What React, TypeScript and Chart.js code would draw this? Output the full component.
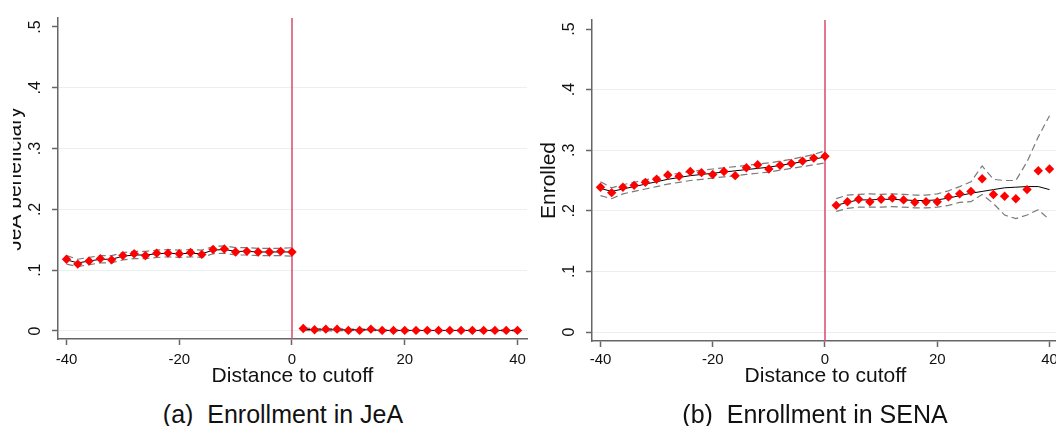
import React, { useEffect, useRef } from "react";
import { Chart, registerables } from "chart.js";

Chart.register(...registerables);

// ---------- data ----------
const xLeft = [-40, -38, -36, -34, -32, -30, -28, -26, -24, -22, -20, -18, -16, -14, -12, -10, -8, -6, -4, -2, 0];
const xRight = [2, 4, 6, 8, 10, 12, 14, 16, 18, 20, 22, 24, 26, 28, 30, 32, 34, 36, 38, 40];
const xTicks = [-40, -20, 0, 20, 40];
const yTicks = [0, 0.1, 0.2, 0.3, 0.4, 0.5];
const yTickLabels = ["0", ".1", ".2", ".3", ".4", ".5"];

// Panel (a): Enrollment in JeA
const jeaPointsLeft = [0.118, 0.110, 0.115, 0.119, 0.117, 0.124, 0.127, 0.124, 0.128, 0.128, 0.127, 0.129, 0.126, 0.134, 0.135, 0.130, 0.131, 0.130, 0.130, 0.131, 0.130];
const jeaFitLeft = [0.117, 0.112, 0.115, 0.118, 0.118, 0.123, 0.125, 0.125, 0.127, 0.128, 0.127, 0.128, 0.127, 0.133, 0.134, 0.131, 0.131, 0.130, 0.130, 0.130, 0.130];
const jeaUpperLeft = [0.124, 0.118, 0.121, 0.124, 0.124, 0.129, 0.131, 0.131, 0.133, 0.134, 0.133, 0.134, 0.133, 0.139, 0.140, 0.137, 0.137, 0.136, 0.136, 0.136, 0.137];
const jeaLowerLeft = [0.110, 0.106, 0.109, 0.112, 0.112, 0.117, 0.119, 0.119, 0.121, 0.122, 0.121, 0.122, 0.121, 0.127, 0.128, 0.125, 0.125, 0.124, 0.124, 0.124, 0.123];
const jeaPointsRight = [0.004, 0.002, 0.003, 0.003, 0.001, 0.001, 0.003, 0.001, 0.001, 0.001, 0.001, 0.001, 0.001, 0.001, 0.001, 0.001, 0.001, 0.001, 0.001, 0.001];
const jeaFitRight = [0.003, 0.002, 0.002, 0.002, 0.002, 0.002, 0.002, 0.001, 0.001, 0.001, 0.001, 0.001, 0.001, 0.001, 0.001, 0.001, 0.001, 0.001, 0.001, 0.001];
const jeaUpperRight = [0.005, 0.004, 0.004, 0.004, 0.003, 0.003, 0.003, 0.002, 0.002, 0.002, 0.002, 0.002, 0.002, 0.002, 0.002, 0.002, 0.002, 0.002, 0.002, 0.002];
const jeaLowerRight = [0.001, 0.000, 0.000, 0.000, 0.001, 0.001, 0.001, 0.000, 0.000, 0.000, 0.000, 0.000, 0.000, 0.000, 0.000, 0.000, 0.000, 0.000, 0.000, 0.000];

// Panel (b): Enrollment in SENA
const senaPointsLeft = [0.239, 0.230, 0.239, 0.242, 0.247, 0.252, 0.259, 0.257, 0.265, 0.263, 0.260, 0.265, 0.258, 0.271, 0.276, 0.269, 0.275, 0.278, 0.282, 0.287, 0.290];
const senaFitLeft = [0.237, 0.232, 0.236, 0.240, 0.244, 0.248, 0.252, 0.255, 0.258, 0.260, 0.262, 0.264, 0.266, 0.268, 0.270, 0.272, 0.275, 0.278, 0.281, 0.285, 0.289];
const senaUpperLeft = [0.248, 0.238, 0.243, 0.247, 0.251, 0.255, 0.259, 0.262, 0.265, 0.267, 0.269, 0.271, 0.273, 0.275, 0.277, 0.279, 0.282, 0.285, 0.289, 0.293, 0.299];
const senaLowerLeft = [0.225, 0.220, 0.228, 0.232, 0.236, 0.240, 0.244, 0.247, 0.250, 0.252, 0.254, 0.256, 0.258, 0.260, 0.262, 0.264, 0.267, 0.270, 0.273, 0.276, 0.279];
const senaPointsRight = [0.209, 0.215, 0.219, 0.215, 0.219, 0.221, 0.218, 0.214, 0.215, 0.215, 0.223, 0.228, 0.232, 0.253, 0.227, 0.224, 0.220, 0.235, 0.266, 0.269];
const senaFitRight = [0.209, 0.214, 0.218, 0.218, 0.219, 0.219, 0.218, 0.217, 0.217, 0.218, 0.221, 0.225, 0.229, 0.232, 0.235, 0.238, 0.239, 0.240, 0.240, 0.235];
const senaUpperRight = [0.220, 0.226, 0.227, 0.228, 0.227, 0.228, 0.227, 0.226, 0.226, 0.228, 0.233, 0.240, 0.248, 0.274, 0.252, 0.250, 0.250, 0.281, 0.322, 0.357];
const senaLowerRight = [0.199, 0.204, 0.206, 0.206, 0.206, 0.207, 0.206, 0.205, 0.205, 0.206, 0.209, 0.214, 0.215, 0.227, 0.212, 0.193, 0.187, 0.193, 0.202, 0.185];

// ---------- styling ----------
const FONT = "'Liberation Sans', Arial, Helvetica, sans-serif";
const AXIS = "#666666";
const TEXT = "#111111";
const GRID = "#e8f0f0";
const CUTLINE = "#d94b6a";
const CI = "#7a7a7a";

type PanelProps = {
  left: number;
  width: number;
  height: number;
  yWidth: number;
  top: number;
  xHeight: number;
  padRight: number;
  tickPad: number;
  xMin: number;
  xMax: number;
  yMin: number;
  yMax: number;
  yTitle: string;
  pointsL: number[];
  pointsR: number[];
  fitL: number[];
  fitR: number[];
  upL: number[];
  upR: number[];
  loL: number[];
  loR: number[];
};

const pts = (xs: number[], ys: number[]) => xs.map((x, i) => ({ x, y: ys[i] }));

function Panel(p: PanelProps) {
  const ref = useRef<HTMLCanvasElement | null>(null);

  useEffect(() => {
    if (!ref.current) return;
    const scatterDs = (xs: number[], ys: number[]) => ({
      data: pts(xs, ys),
      pointStyle: "rectRot",
      pointRadius: 4.7,
      backgroundColor: "#ff0000",
      borderColor: "#ff0000",
      borderWidth: 0,
      showLine: false,
    });
    const lineDs = (xs: number[], ys: number[], color: string, width: number, dash: number[]) => ({
      data: pts(xs, ys),
      showLine: true,
      pointRadius: 0,
      borderColor: color,
      borderWidth: width,
      borderDash: dash,
      fill: false,
      tension: 0,
    });

    const plugin = {
      id: "stataDecor",
      beforeDatasetsDraw(chart: any) {
        const { ctx, chartArea } = chart;
        const x0 = chart.scales.x.getPixelForValue(0);
        ctx.save();
        ctx.strokeStyle = CUTLINE;
        ctx.lineWidth = 1.5;
        ctx.beginPath();
        ctx.moveTo(x0, chartArea.top);
        ctx.lineTo(x0, chartArea.bottom);
        ctx.stroke();
        ctx.restore();
      },
      afterDraw(chart: any) {
        const { ctx, chartArea } = chart;
        const ys = chart.scales.y;
        ctx.save();
        ctx.fillStyle = TEXT;
        ctx.textAlign = "center";
        ctx.textBaseline = "middle";
        ctx.font = `16px ${FONT}`;
        yTicks.forEach((v, i) => {
          const y = ys.getPixelForValue(v);
          ctx.save();
          ctx.translate(chartArea.left - 22, y);
          ctx.rotate(-Math.PI / 2);
          ctx.fillText(yTickLabels[i], 0, 0);
          ctx.restore();
        });
        const yc = (ys.getPixelForValue(0) + ys.getPixelForValue(0.5)) / 2;
        ctx.font = `21px ${FONT}`;
        ctx.translate(chartArea.left - 43, yc);
        ctx.rotate(-Math.PI / 2);
        ctx.fillText(p.yTitle, 0, 0);
        ctx.restore();
      },
    };

    const chart = new Chart(ref.current, {
      type: "scatter",
      data: {
        datasets: [
          scatterDs(xLeft, p.pointsL),
          scatterDs(xRight, p.pointsR),
          lineDs(xLeft, p.fitL, "#000000", 1, []),
          lineDs(xRight, p.fitR, "#000000", 1, []),
          lineDs(xLeft, p.upL, CI, 1.2, [7, 4]),
          lineDs(xLeft, p.loL, CI, 1.2, [7, 4]),
          lineDs(xRight, p.upR, CI, 1.2, [7, 4]),
          lineDs(xRight, p.loR, CI, 1.2, [7, 4]),
        ] as any,
      },
      options: {
        animation: false,
        responsive: false,
        maintainAspectRatio: false,
        devicePixelRatio: 1,
        layout: { padding: { left: 0, top: p.top, right: p.padRight, bottom: 0 } },
        plugins: { legend: { display: false }, tooltip: { enabled: false }, title: { display: false } },
        scales: {
          x: {
            type: "linear",
            min: p.xMin,
            max: p.xMax,
            afterBuildTicks: (s: any) => {
              s.ticks = xTicks.map((v) => ({ value: v }));
            },
            afterFit: (s: any) => {
              s.height = p.xHeight;
            },
            grid: {
              drawOnChartArea: false,
              drawTicks: true,
              tickLength: 6,
              tickWidth: 1.5,
              tickColor: AXIS,
              color: AXIS,
            },
            border: { display: true, color: AXIS, width: 1.5 },
            ticks: {
              font: { family: FONT, size: 15 },
              color: TEXT,
              padding: p.tickPad - 1,
              maxRotation: 0,
              minRotation: 0,
              autoSkip: false,
              callback: (v: any) => String(v),
            },
            title: {
              display: true,
              text: "Distance to cutoff",
              font: { family: FONT, size: 21 },
              color: TEXT,
              padding: { top: 0, bottom: 6 },
            },
          },
          y: {
            type: "linear",
            min: p.yMin,
            max: p.yMax,
            afterBuildTicks: (s: any) => {
              s.ticks = yTicks.map((v) => ({ value: v }));
            },
            afterFit: (s: any) => {
              s.width = p.yWidth;
            },
            grid: {
              drawOnChartArea: true,
              drawTicks: true,
              tickLength: 6,
              tickWidth: 1.5,
              tickColor: AXIS,
              lineWidth: 1,
              color: (c: any) => (c.tick && Math.abs(c.tick.value - 0.5) < 1e-9 ? "rgba(0,0,0,0)" : GRID),
            },
            border: { display: true, color: AXIS, width: 1.5 },
            ticks: { display: false },
          },
        },
      } as any,
      plugins: [plugin],
    });
    return () => chart.destroy();
  }, []);

  return (
    <canvas
      ref={ref}
      width={p.width}
      height={p.height}
      style={{ position: "absolute", left: p.left, top: 0, width: p.width, height: p.height }}
    />
  );
}

const captionStyle = (center: number): React.CSSProperties => ({
  position: "absolute",
  left: center - 250,
  width: 500,
  top: 402,
  textAlign: "center",
  fontFamily: FONT,
  fontSize: 25,
  lineHeight: "25px",
  color: TEXT,
  whiteSpace: "pre",
});

export default function App() {
  return (
    <div
      style={{
        position: "absolute",
        left: 0,
        top: 0,
        width: 1056,
        height: 426,
        overflow: "hidden",
        background: "#ffffff",
      }}
    >
      <Panel
        left={13}
        width={530}
        height={395}
        yWidth={45}
        top={18}
        xHeight={56}
        padRight={16}
        tickPad={7}
        xMin={-41.51}
        xMax={41.69}
        yMin={-0.01316}
        yMax={0.5148}
        yTitle="JeA beneficiary"
        pointsL={jeaPointsLeft}
        pointsR={jeaPointsRight}
        fitL={jeaFitLeft}
        fitR={jeaFitRight}
        upL={jeaUpperLeft}
        upR={jeaUpperRight}
        loL={jeaLowerLeft}
        loR={jeaLowerRight}
      />
      <Panel
        left={530}
        width={545}
        height={395}
        yWidth={62}
        top={20}
        xHeight={54}
        padRight={16}
        tickPad={5}
        xMin={-41.51}
        xMax={41.69}
        yMin={-0.01485}
        yMax={0.5149}
        yTitle="Enrolled"
        pointsL={senaPointsLeft}
        pointsR={senaPointsRight}
        fitL={senaFitLeft}
        fitR={senaFitRight}
        upL={senaUpperLeft}
        upR={senaUpperRight}
        loL={senaLowerLeft}
        loR={senaLowerRight}
      />
      <div style={captionStyle(283)}>{"(a)  Enrollment in JeA"}</div>
      <div style={captionStyle(815)}>{"(b)  Enrollment in SENA"}</div>
    </div>
  );
}
